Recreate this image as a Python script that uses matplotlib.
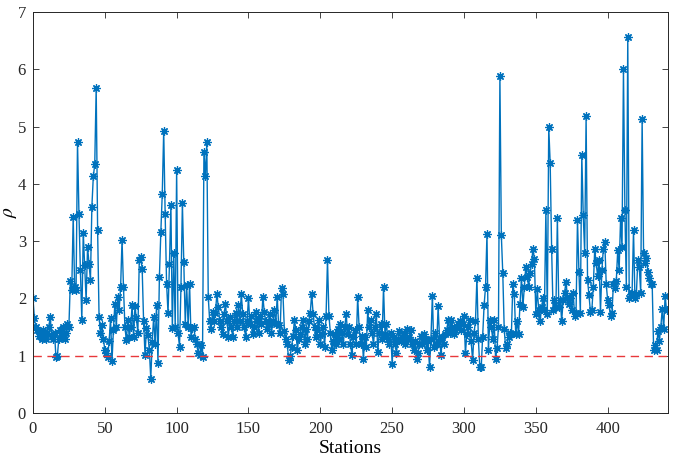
import numpy as np
import matplotlib
matplotlib.use("Agg")
import matplotlib.pyplot as plt

# rho values per station (segments)
seg_a = [2.0, 1.65, 1.5, 1.45, 1.35, 1.4, 1.3, 1.45, 1.35, 1.3, 1.4, 1.5, 1.68, 1.35, 1.3, 1.4,
         0.97, 1.0, 1.3, 1.45, 1.35, 1.5, 1.3, 1.4, 1.55, 1.5]
seg_b = [2.3, 2.15, 3.43, 2.2, 2.15, 4.73, 3.48, 2.5, 1.62, 3.15, 2.58, 1.97, 2.9, 2.6, 2.32,
         3.6, 4.13, 4.34, 5.68, 3.19, 1.68, 1.39, 1.54, 1.3, 1.1, 1.05, 0.98, 1.25, 1.65, 0.9,
         1.45, 1.91, 1.5, 2.03, 1.8, 2.2, 3.02]
seg_c = [2.2, 1.5, 1.27, 1.62, 1.33, 1.5, 1.88, 1.33, 1.86, 1.65, 1.4, 2.67, 2.73, 2.52, 1.6,
         1.01, 1.48, 1.36, 1.1, 0.6, 1.24, 1.68, 1.2, 1.88, 0.87, 2.38, 3.16, 3.83, 4.93, 3.48,
         2.26, 1.74, 2.6, 3.63, 1.48, 2.79, 1.5, 4.25, 1.39, 1.16, 2.2, 3.66, 2.64, 1.56, 2.23,
         1.51, 2.26, 1.33, 1.48, 1.5, 1.3, 1.2, 1.05, 1.01, 1.19, 0.98, 4.56, 4.13, 4.73, 2.03]
seg_d = [1.6, 1.47, 1.77, 1.6, 1.75, 2.08, 1.85, 1.6, 1.5, 1.38, 1.73, 1.9, 1.6, 1.33, 1.67,
         1.5, 1.33, 1.6, 1.75, 1.5, 1.88, 1.6, 2.08, 1.73, 1.5, 1.33, 1.6, 2.0, 1.56, 1.7,
         1.38, 1.5, 1.77, 1.6, 1.4, 1.7, 1.55, 2.03, 1.77, 1.6, 1.47, 1.55, 1.73, 1.4, 1.6,
         1.8, 1.55, 2.03, 1.53, 1.4, 2.19, 2.08, 1.44, 1.3, 1.2, 0.92, 1.0, 1.15, 1.35, 1.62,
         1.45, 1.1, 1.3, 1.38, 1.5, 1.62, 1.2, 1.47, 1.3, 1.6, 1.75, 2.08, 1.73, 1.5, 1.33,
         1.45, 1.62, 1.2, 1.38, 1.5, 1.15, 1.7, 2.67]
seg_e = [1.7, 1.4, 1.1, 1.25, 1.38, 1.2, 1.47, 1.3, 1.55, 1.4, 1.2, 1.5, 1.73, 1.38, 1.5,
         1.2, 1.01, 1.33, 1.45, 1.2, 2.03, 1.5, 1.21, 1.35, 0.95, 1.33, 1.15, 1.79, 1.5, 1.62,
         1.4, 1.21, 1.5, 1.73, 1.06, 1.4, 1.55, 1.3, 2.2, 1.38, 1.56, 1.3, 1.2, 1.4, 0.86,
         1.33, 1.2, 1.04, 1.3, 1.44, 1.25, 1.33, 1.4, 1.2, 1.47, 1.3, 1.33, 1.45, 1.2, 1.1,
         1.25, 0.95, 1.05, 1.21, 1.35, 1.2, 1.38, 1.3, 1.1, 1.25, 0.8, 1.3, 2.05, 1.15, 1.4,
         1.2, 1.86, 1.3, 1.01, 1.33, 1.2, 1.38, 1.45, 1.62, 1.4, 1.62, 1.5, 1.38, 1.45, 1.5,
         1.55, 1.6, 1.45, 1.55, 1.7, 1.04, 1.38, 1.5, 1.62, 1.25, 0.92, 1.4, 1.6, 2.36, 1.3,
         0.8, 0.8, 1.33, 1.88, 2.2]
seg_f = [3.13, 1.1, 1.62, 1.5, 1.3, 1.62, 0.95, 1.13, 1.5, 5.89, 3.1, 2.44, 1.47, 1.13, 1.2,
         1.33, 1.4, 1.38, 2.25, 2.08, 1.38, 1.6, 1.38, 1.91, 2.35, 1.85, 2.2, 2.55, 2.38, 2.2,
         2.45, 2.6, 2.87, 2.69, 1.73, 2.16, 1.8, 1.6, 1.85, 2.0, 1.8, 3.54, 1.73, 4.99, 4.36,
         2.87, 1.79, 1.97, 1.85, 3.4, 1.85, 1.97, 1.6, 1.97, 2.1, 2.29, 2.03, 1.9, 2.0, 1.79,
         2.1, 1.7, 1.75, 3.37, 2.47, 1.75, 4.5, 3.46, 2.8, 5.18, 2.32, 2.06, 1.77, 1.8, 2.2,
         2.87, 2.61, 2.4, 2.67, 1.77, 2.5, 2.87, 2.99, 2.25, 1.97, 1.88, 1.7, 1.75, 2.25, 2.19,
         2.3, 2.84, 2.5, 3.4, 2.9, 6.0, 3.54, 2.2, 6.57, 2.0, 2.08, 2.1, 3.19, 2.0, 2.08,
         2.67, 2.55, 2.1, 5.14, 2.79, 2.61, 2.7, 2.47, 2.35, 2.25, 2.25, 1.1, 1.19, 1.1, 1.44,
         1.26, 1.5, 1.82, 1.47, 2.05, 1.79]

rho = np.array(seg_a + seg_b + seg_c + seg_d + seg_e + seg_f)
stations = np.arange(len(rho))
threshold = 1.0

xticks = [0, 50, 100, 150, 200, 250, 300, 350, 400]
yticks = [0, 1, 2, 3, 4, 5, 6, 7]

plt.rcParams['font.family'] = ['Liberation Serif', 'DejaVu Serif']
plt.rcParams['mathtext.fontset'] = 'stix'

fig = plt.figure(figsize=(6.77, 4.59), dpi=100)
ax = fig.add_axes([0.0487, 0.1002, 0.9380, 0.8737])

ax.plot(stations, rho, color='#0072BD', linewidth=1.0, marker=(8, 2, 0),
        markersize=6, markeredgewidth=0.9)
ax.axhline(threshold, color='#E8383B', linestyle=(0, (6, 4)), linewidth=1.0)

ax.set_xlim(0, 442)
ax.set_ylim(0, 7)
ax.set_xticks(xticks)
ax.set_yticks(yticks)
ax.tick_params(direction='in', top=True, right=True, labelsize=12, length=4,
               width=0.6, colors='#262626')
ax.tick_params(axis='x', pad=6)
ax.tick_params(axis='y', pad=5)
for s in ax.spines.values():
    s.set_linewidth(0.7)
    s.set_color('#262626')

ax.set_xlabel('Stations', fontsize=14, labelpad=2)
ax.set_ylabel(r'$\rho$', fontsize=14)
ax.yaxis.set_label_coords(-0.022, 0.5)

fig.savefig('out.png', dpi=100)
